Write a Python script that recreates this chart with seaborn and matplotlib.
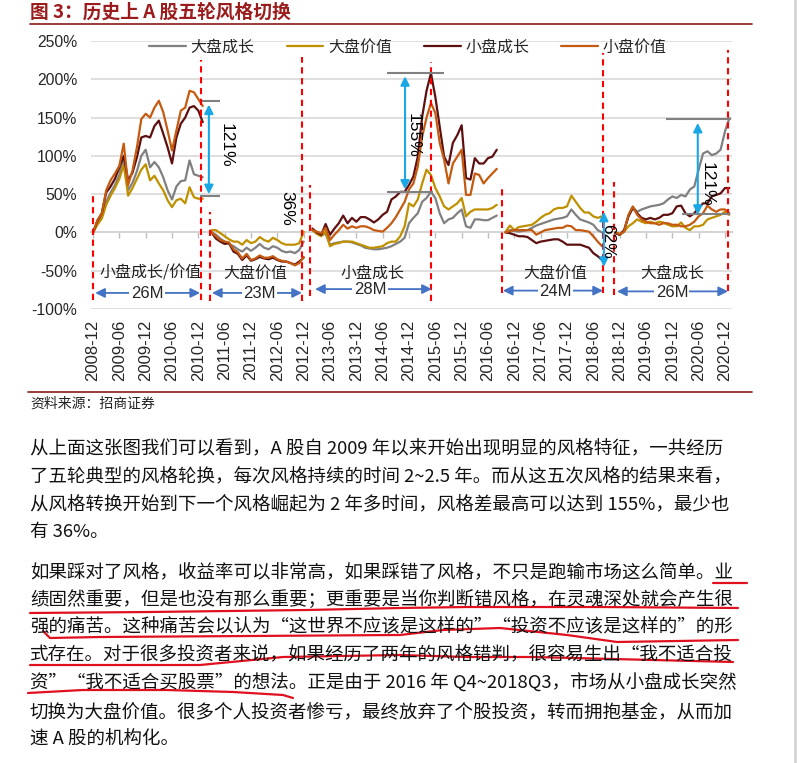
import numpy as np
import pandas as pd
import matplotlib
matplotlib.use("Agg")
import matplotlib.pyplot as plt
from matplotlib.lines import Line2D
import seaborn as sns

sns.set_theme(style="white")
plt.rcParams["font.family"] = ["Noto Sans CJK SC", "DejaVu Sans"]

# ---------------- data ----------------
SERIES = ["大盘成长", "大盘价值", "小盘成长", "小盘价值"]
COLORS = ["#808080", "#BF9000", "#5E1010", "#C55A11"]
SEG_START = [0, 27, 50, 94, 119]          # month offset from 2008-12
TICK_LABELS = ["2008-12", "2009-06", "2009-12", "2010-06", "2010-12", "2011-06",
               "2011-12", "2012-06", "2012-12", "2013-06", "2013-12", "2014-06",
               "2014-12", "2015-06", "2015-12", "2016-06", "2016-12", "2017-06",
               "2017-12", "2018-06", "2018-12", "2019-06", "2019-12", "2020-06",
               "2020-12"]

large_growth = [
    [0, 12, 22, 40, 52, 62, 75, 98, 55, 65, 80, 100, 108, 85, 92, 85, 72, 55, 43, 60, 67, 68, 94, 76, 74, 72],
    [0, -3, -8, -12, -15, -18, -22, -25, -20, -24, -20, -15, -20, -22, -18, -20, -24, -26, -25, -27, -23, -12],
    [3, -1, -3, -2, -16, -14, -13, -12, -12, -13, -15, -17, -20, -21, -22, -22, -21, -20, -18, -15, -12, -7,
     12, 19, 25, 40, 45, 53, 45, 25, 12, 17, 19, 25, 30, 8, 6, 17, 17, 16, 16, 19, 22],
    [0, 3, 2, 1, 2, 3, 6, 9, 11, 13, 15, 17, 18, 19, 21, 30, 23, 17, 15, 13, 10, 3, 0],
    [-1, -3, 1, 21, 33, 27, 30, 32, 34, 35, 36, 38, 43, 47, 45, 49, 47, 56, 60, 82, 103, 106, 101, 103, 108, 132, 149],
]
large_value = [
    [0, 10, 18, 36, 48, 58, 70, 88, 48, 58, 70, 82, 89, 68, 74, 64, 55, 42, 33, 42, 44, 38, 59, 46, 44, 44],
    [3, 3, -1, -5, -9, -12, -12, -16, -10, -14, -12, -6, -10, -12, -7, -10, -14, -16, -16, -16, -14, 1],
    [3, -2, -5, 1, -18, -15, -14, -12, -12, -12, -14, -16, -18, -20, -20, -19, -18, -14, -12, -12, -5, 8,
     38, 34, 43, 64, 82, 75, 58, 47, 34, 30, 34, 38, 45, 21, 27, 30, 30, 30, 30, 32, 36],
    [1, 9, 3, 7, 8, 9, 10, 14, 19, 23, 25, 30, 32, 32, 34, 48, 40, 32, 26, 26, 21, 19, 21],
    [0, -3, 1, 8, 12, 17, 14, 12, 14, 12, 14, 13, 10, 8, 8, 13, 6, 3, 8, 8, 10, 17, 19, 21, 23, 27, 23],
]
small_growth = [
    [0, 15, 25, 52, 60, 70, 85, 100, 68, 78, 98, 124, 126, 124, 139, 146, 129, 111, 90, 124, 142, 150, 163, 165, 159, 144],
    [0, -8, -12, -15, -14, -25, -28, -36, -30, -37, -35, -32, -34, -35, -33, -36, -38, -38, -40, -42, -38, -33],
    [5, 0, -3, 11, -3, 5, 12, 22, 12, 19, 14, 20, 20, 17, 13, 17, 23, 27, 43, 47, 53, 53, 62, 73, 99,
     151, 185, 208, 177, 138, 99, 88, 117, 127, 140, 71, 69, 97, 90, 90, 97, 99, 108],
    [0, -1, -3, -5, -5, -6, -10, -14, -12, -11, -10, -9, -9, -12, -16, -16, -16, -16, -18, -20, -27, -31, -36],
    [-1, -3, 3, 21, 32, 25, 19, 17, 19, 17, 19, 23, 23, 25, 34, 35, 25, 21, 25, 32, 38, 38, 47, 49, 51, 58, 58],
]
small_value = [
    [0, 16, 25, 55, 68, 77, 87, 116, 62, 81, 111, 148, 155, 150, 163, 172, 157, 133, 107, 133, 159, 163, 185, 183, 174, 165],
    [0, -5, -10, -12, -13, -22, -26, -34, -28, -36, -34, -30, -33, -33, -31, -35, -37, -38, -40, -43, -40, -32],
    [3, 1, -1, 6, -10, -3, 3, 10, 5, 8, 6, 8, 8, 6, 3, 2, 1, 6, 12, 20, 30, 40, 56, 64, 86,
     125, 150, 169, 156, 117, 95, 64, 90, 99, 108, 49, 49, 77, 75, 64, 71, 77, 83],
    [0, 2, 3, 3, 3, 3, 3, -3, 0, 3, 4, 5, 6, 6, 9, 8, 3, 3, 2, 1, -5, -12, -18],
    [0, -2, 1, 23, 34, 23, 17, 14, 12, 12, 10, 12, 12, 10, 10, 8, 8, 10, 14, 21, 25, 35, 30, 27, 30, 30, 25],
]

rows = []
for name, segs in zip(SERIES, [large_growth, large_value, small_growth, small_value]):
    for k, (start, vals) in enumerate(zip(SEG_START, segs)):
        for i, v in enumerate(vals):
            rows.append({"month": start + i, "value": v, "series": name, "segment": k})
df = pd.DataFrame(rows)

# ---------------- figure ----------------
W, H = 800, 763
fig = plt.figure(figsize=(W / 100, H / 100), dpi=100)
fig.patch.set_facecolor("white")


def fx(x):
    return x / W


def fy(y):
    return 1 - y / H


ax = fig.add_axes([fx(91), fy(309), (732 - 91) / W, (309 - 41) / H])
ax.set_xlim(-0.46, 145.6)
ax.set_ylim(-100, 250)

sns.lineplot(data=df, x="month", y="value", hue="series", hue_order=SERIES,
             palette=COLORS, units="segment", estimator=None, lw=1.6, ax=ax)

for s in ax.spines.values():
    s.set_visible(False)
ax.set_xlabel("")
ax.set_ylabel("")

yt = list(range(-100, 251, 50))
ax.set_yticks(yt)
ax.set_yticklabels([f"{v}%" for v in yt], family="Liberation Sans", fontsize=11.3)
ax.yaxis.grid(True, color="#D9D9D9", lw=1.2)
ax.xaxis.grid(False)
xt = np.arange(0, 145, 6)
ax.set_xticks(xt)
ax.set_xticklabels(TICK_LABELS, rotation=90, family="Liberation Sans", fontsize=12)
ax.tick_params(axis="y", length=0, pad=10)
ax.tick_params(axis="x", length=0, pad=8)

# axis line at 0% with small ticks
sec = ax.secondary_xaxis(100 / 350)
sec.set_xticks(xt)
sec.set_xticklabels([])
sec.tick_params(length=4, direction="out", color="#BFBFBF", width=1)
for s in sec.spines.values():
    s.set_color("#BFBFBF")

# legend
h, l = ax.get_legend_handles_labels()
ax.legend(h, l, ncol=4, loc="center", bbox_to_anchor=(fx(408), fy(47)),
          bbox_transform=fig.transFigure, frameon=False, fontsize=11.5,
          handlelength=2.3, handletextpad=0.3, columnspacing=2.0)

# red dashed period separators
DASH = [(0, -88, 53), (24.6, -88, 225), (26.7, -90, 27), (47.6, -90, 229),
        (49.4, -83, 62), (77.0, -90, 222), (93.2, -79, 62), (116.2, -79, 234),
        (118.7, -82, 66), (144.7, -77, 238)]
for xm, y0, y1 in DASH:
    ax.vlines(xm, y0, y1, colors="#FF0000", linestyles=(0, (3, 2.2)), lw=1.5, zorder=3)

# spread annotations
BLUE = "#1AA7E6"
GREY = "#808080"
for y, x0, x1 in [(172, 24.8, 28.9), (47, 24.4, 28.9), (208, 67, 80), (53, 67, 77.4),
                  (148, 130.6, 145.4), (24, 134.2, 145.2)]:
    ax.hlines(y, x0, x1, colors=GREY, lw=1.5, zorder=3)
for xm, ya, yb in [(26.4, 167, 50), (71.1, 204, 56), (116.4, 27, -45), (137.8, 143, 23)]:
    ax.annotate("", xy=(xm, ya), xytext=(xm, yb),
                arrowprops=dict(arrowstyle="<|-|>", color=BLUE, lw=1.5,
                                mutation_scale=13, shrinkA=0, shrinkB=0), zorder=4)
for xm, ym, txt in [(30.3, 114, "121%"), (44.2, 32, "36%"), (72.9, 127, "155%"),
                    (117.3, -12, "62%"), (139.9, 63, "121%")]:
    ax.text(xm, ym, txt, rotation=-90, ha="center", va="center", fontsize=12.5,
            family="Liberation Sans", color="black", zorder=5)

# period labels and duration arrows
DBLUE = "#4472C4"
for xm, txt in [(13.2, "小盘成长/价值"), (36.9, "大盘价值"), (63.6, "小盘成长"),
                (105.3, "大盘价值"), (131.9, "大盘成长")]:
    ax.text(xm, -53, txt, ha="center", va="center", fontsize=11.5, color="#222222")
for x0, x1, y, xtxt, txt in [(0.5, 24.4, -79, 12.3, "26M"), (27.1, 47.6, -79, 38.0, "23M"),
                             (50.6, 77.2, -74, 63.1, "28M"), (93.4, 116.2, -76, 105.3, "24M"),
                             (119.4, 144.7, -77, 131.9, "26M")]:
    ax.annotate("", xy=(x1, y), xytext=(x0, y),
                arrowprops=dict(arrowstyle="<|-|>", color=DBLUE, lw=1.3,
                                mutation_scale=14, shrinkA=0, shrinkB=0), zorder=4)
    ax.text(xtxt, y - 1, txt, ha="center", va="center", fontsize=12,
            family="Liberation Sans", zorder=5,
            bbox=dict(fc="white", ec="none", pad=1.0))

# ---------------- page texts ----------------
fig.text(fx(30), fy(12), "图 3：历史上 A 股五轮风格切换", ha="left", va="center",
         fontsize=13.5, fontweight="bold", color="#9B1C1C")
fig.add_artist(Line2D([fx(30), fx(752)], [fy(23.5), fy(23.5)], color="#8B1A1A", lw=1.2))
fig.add_artist(Line2D([fx(28), fx(752)], [fy(392), fy(392)], color="#8B1A1A", lw=1.2))
fig.text(fx(30), fy(404), "资料来源：招商证券", ha="left", va="center", fontsize=10, color="#222222")

PARA = [
    (448, "从上面这张图我们可以看到，A 股自 2009 年以来开始出现明显的风格特征，一共经历"),
    (477, "了五轮典型的风格轮换，每次风格持续的时间 2~2.5 年。而从这五次风格的结果来看，"),
    (505, "从风格转换开始到下一个风格崛起为 2 年多时间，风格差最高可以达到 155%，最少也"),
    (532, "有 36%。"),
    (572, "如果踩对了风格，收益率可以非常高，如果踩错了风格，不只是跑输市场这么简单。业"),
    (600, "绩固然重要，但是也没有那么重要；更重要是当你判断错风格，在灵魂深处就会产生很"),
    (627, "强的痛苦。这种痛苦会以认为“这世界不应该是这样的”“投资不应该是这样的”的形"),
    (655, "式存在。对于很多投资者来说，如果经历了两年的风格错判，很容易生出“我不适合投"),
    (683, "资”“我不适合买股票”的想法。正是由于 2016 年 Q4~2018Q3，市场从小盘成长突然"),
    (712, "切换为大盘价值。很多个人投资者惨亏，最终放弃了个股投资，转而拥抱基金，从而加"),
    (740, "速 A 股的机构化。"),
]
for y, txt in PARA:
    fig.text(fx(30), fy(y), txt, ha="left", va="center", fontsize=13.3, color="#111111")

UNDERLINES = [
    [(713, 583), (747, 583)],
    [(30, 613), (150, 612), (307, 610), (400, 608), (467, 607), (600, 607), (738, 608)],
    [(43, 631), (50, 638), (100, 637), (250, 636), (400, 635), (443, 630), (500, 628),
     (567, 635), (617, 642), (738, 640)],
    [(30, 665), (200, 665), (283, 657), (400, 655), (467, 657), (533, 657), (733, 662)],
    [(28, 693), (83, 690), (167, 690), (233, 692), (283, 695), (293, 698)],
]
for path in UNDERLINES:
    xs = [fx(p[0]) for p in path]
    ys = [fy(p[1]) for p in path]
    fig.add_artist(Line2D(xs, ys, color="#E0101E", lw=1.6, solid_capstyle="round"))

fig.add_artist(Line2D([fx(795), fx(795)], [0, 1], color="#D4D4D4", lw=2))

fig.savefig("out.png", dpi=100, facecolor="white")
